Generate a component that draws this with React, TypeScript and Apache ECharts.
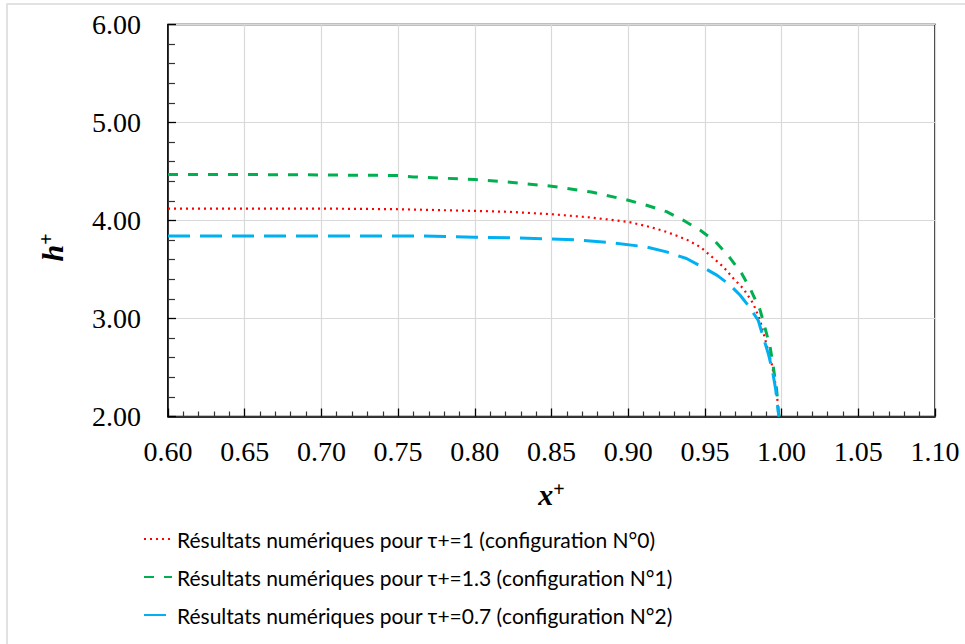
import React, { useEffect, useRef } from "react";
import * as echarts from "echarts";

// τ+ = 1 (configuration N°0)
const redX = [0.60, 0.70, 0.75, 0.80, 0.823, 0.85, 0.876, 0.90, 0.914, 0.925, 0.938, 0.947, 0.9545, 0.962, 0.9685, 0.975, 0.9815, 0.986, 0.990, 0.9935, 0.9956, 0.9973, 0.998, 0.9985];
const redY = [4.122, 4.122, 4.115, 4.098, 4.088, 4.064, 4.03, 3.986, 3.935, 3.884, 3.806, 3.73, 3.63, 3.527, 3.41, 3.306, 3.153, 2.98, 2.745, 2.54, 2.37, 2.167, 2.03, 2.0];

// τ+ = 1.3 (configuration N°1)
const greenX = [0.60, 0.65, 0.70, 0.75, 0.76, 0.80, 0.823, 0.85, 0.876, 0.90, 0.912, 0.925, 0.937, 0.947, 0.9565, 0.965, 0.974, 0.980, 0.986, 0.989, 0.9925, 0.9946, 0.9968, 0.998, 0.9985];
const greenY = [4.47, 4.469, 4.465, 4.459, 4.445, 4.418, 4.39, 4.35, 4.29, 4.207, 4.156, 4.09, 3.993, 3.90, 3.79, 3.646, 3.459, 3.289, 3.085, 2.915, 2.71, 2.506, 2.27, 2.03, 2.0];

// τ+ = 0.7 (configuration N°2)
const blueX = [0.60, 0.70, 0.76, 0.80, 0.823, 0.85, 0.869, 0.891, 0.912, 0.925, 0.938, 0.949, 0.958, 0.9665, 0.973, 0.979, 0.9848, 0.988, 0.9913, 0.994, 0.9962, 0.998, 0.9985];
const blueY = [3.843, 3.843, 3.843, 3.83, 3.823, 3.812, 3.80, 3.77, 3.73, 3.68, 3.612, 3.52, 3.44, 3.34, 3.237, 3.118, 2.98, 2.81, 2.643, 2.47, 2.27, 2.03, 2.0];

const seriesNames = [
  "Résultats numériques pour τ+=1 (configuration N°0)",
  "Résultats numériques pour τ+=1.3 (configuration N°1)",
  "Résultats numériques pour τ+=0.7 (configuration N°2)",
];

const zip = (xs: number[], ys: number[]) => xs.map((x, i) => [x, ys[i]]);

const serif = "'Liberation Serif', 'DejaVu Serif', serif";
const legendFont = "Lato, 'Open Sans', sans-serif";

export default function App() {
  const ref = useRef<HTMLDivElement>(null);
  useEffect(() => {
    if (!ref.current) return;
    const chart = echarts.init(ref.current, null, { renderer: "svg" });
    chart.setOption({
      animation: false,
      backgroundColor: "#ffffff",
      graphic: [
        {
          type: "rect",
          shape: { x: 7, y: 4, width: 1000, height: 700 },
          style: { fill: "none", stroke: "#d9d9d9", lineWidth: 1.5 },
          silent: true,
        },
      ],
      grid: {
        left: 168,
        top: 24.5,
        right: 30,
        bottom: 227.5,
        show: true,
        borderColor: "#000",
        borderWidth: 1.5,
      },
      xAxis: {
        type: "value",
        min: 0.6,
        max: 1.1,
        interval: 0.05,
        name: "{v|x}{s|+}",
        nameLocation: "middle",
        nameGap: 62,
        nameTextStyle: {
          rich: {
            v: { fontFamily: serif, fontSize: 30, fontWeight: "bold", fontStyle: "italic", color: "#000" },
            s: { fontFamily: serif, fontSize: 20, fontWeight: "bold", color: "#000", verticalAlign: "top", padding: [0, 0, 12, 0] },
          },
        },
        axisLine: { show: true, onZero: false, lineStyle: { color: "#000", width: 1.5 } },
        axisTick: { show: true, inside: true, length: 8, lineStyle: { color: "#000", width: 1.3 } },
        minorTick: { show: true, splitNumber: 5, length: 5, lineStyle: { color: "#333", width: 1.2 } },
        splitLine: { show: true, lineStyle: { color: "#d9d9d9", width: 1.2 } },
        axisLabel: {
          fontFamily: serif,
          fontSize: 28,
          color: "#000",
          margin: 21,
          formatter: (v: number) => v.toFixed(2),
        },
      },
      yAxis: {
        type: "value",
        min: 2,
        max: 6,
        interval: 1,
        name: "{v|h}{s|+}",
        nameLocation: "middle",
        nameRotate: 90,
        nameGap: 100,
        nameTextStyle: {
          padding: [0, 54, 0, 0],
          rich: {
            v: { fontFamily: serif, fontSize: 30, fontWeight: "bold", fontStyle: "italic", color: "#000" },
            s: { fontFamily: serif, fontSize: 20, fontWeight: "bold", color: "#000", verticalAlign: "top", padding: [0, 0, 12, 0] },
          },
        },
        axisLine: { show: true, onZero: false, lineStyle: { color: "#000", width: 1.5 } },
        axisTick: { show: true, inside: true, length: 8, lineStyle: { color: "#000", width: 1.3 } },
        minorTick: { show: true, splitNumber: 5, length: 7, lineStyle: { color: "#333", width: 1.2 } },
        splitLine: { show: true, lineStyle: { color: "#d9d9d9", width: 1.2 } },
        axisLabel: {
          fontFamily: serif,
          fontSize: 28,
          color: "#000",
          margin: 27,
          formatter: (v: number) => v.toFixed(2),
        },
      },
      legend: {
        orient: "vertical",
        left: 138,
        top: 520,
        itemWidth: 28,
        itemHeight: 14,
        itemGap: 10,
        itemStyle: { color: "transparent", borderColor: "transparent", borderWidth: 0, opacity: 0 },
        textStyle: { fontFamily: legendFont, fontSize: 21, color: "#000", lineHeight: 28 },
        data: seriesNames,
      },
      series: [
        {
          name: seriesNames[0],
          type: "line",
          data: zip(redX, redY),
          showSymbol: false,
          symbol: "none",
          lineStyle: { color: "#ff0000", width: 2.2, type: [2, 4], cap: "butt" },
          itemStyle: { color: "#ff0000" },
        },
        {
          name: seriesNames[1],
          type: "line",
          data: zip(greenX, greenY),
          showSymbol: false,
          symbol: "none",
          lineStyle: { color: "#00b050", width: 3, type: [10, 10] },
          itemStyle: { color: "#00b050" },
        },
        {
          name: seriesNames[2],
          type: "line",
          data: zip(blueX, blueY),
          showSymbol: false,
          symbol: "none",
          lineStyle: { color: "#00b0f0", width: 3, type: [22, 10] },
          itemStyle: { color: "#00b0f0" },
        },
      ],
    });
    return () => chart.dispose();
  }, []);
  return (
    <div
      ref={ref}
      style={{ position: "fixed", left: 0, top: 0, width: 965, height: 644 }}
    />
  );
}
